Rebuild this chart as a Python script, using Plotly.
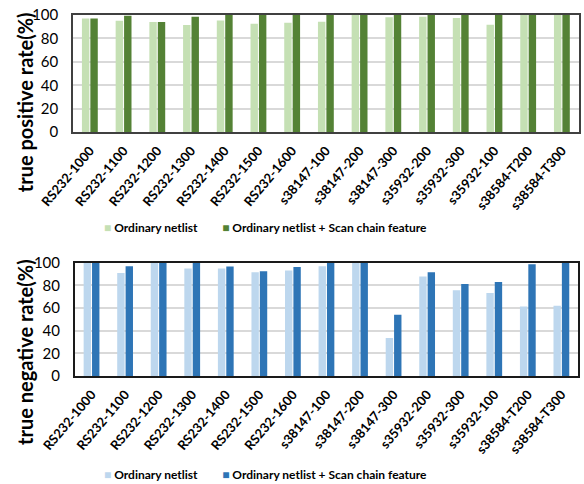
import plotly.graph_objects as go

circuits = ["RS232-1000", "RS232-1100", "RS232-1200", "RS232-1300", "RS232-1400",
            "RS232-1500", "RS232-1600", "s38147-100", "s38147-200", "s38147-300",
            "s35932-200", "s35932-300", "s35932-100", "s38584-T200", "s38584-T300"]

# true positive rate (%)
tpr_ordinary = [97, 95, 94, 91.4, 95.4, 92.6, 93.4, 94.3, 100, 98, 98.6, 97.4, 91.7, 100, 100]
tpr_scan = [97, 99.4, 94, 98.6, 100, 100, 100, 100, 100, 100, 100, 100, 100, 100, 100]

# true negative rate (%)
tnr_ordinary = [100, 91.1, 100, 95, 95, 91.7, 93.2, 97, 100, 33.7, 87.9, 75.7, 73.4, 61.5, 62.1]
tnr_scan = [100, 97, 100, 100, 96.7, 92.6, 96.4, 100, 100, 54.1, 91.7, 81.4, 83.1, 98.8, 100]

y_ticks = [0, 20, 40, 60, 80, 100]
series_names = ["Ordinary netlist", "Ordinary netlist + Scan chain feature"]
green = ["#c5e0b4", "#548235"]
blue = ["#bdd7ee", "#2e75b6"]

FONT = "Lato"
fig = go.Figure()

for vals, col in zip([tpr_ordinary, tpr_scan], green):
    fig.add_trace(go.Bar(x=circuits, y=vals, marker=dict(color=col, line=dict(width=0)),
                         xaxis="x", yaxis="y", showlegend=False))
for vals, col in zip([tnr_ordinary, tnr_scan], blue):
    fig.add_trace(go.Bar(x=circuits, y=vals, marker=dict(color=col, line=dict(width=0)),
                         xaxis="x2", yaxis="y2", showlegend=False))

xcommon = dict(type="category", showline=True, mirror=True,
               linewidth=1.5, ticks="", showgrid=False, automargin=False,
               ticklabelstandoff=4,
               tickprefix="<b>", ticksuffix="</b>",
               tickfont=dict(family=FONT, size=13, color="#000000"))
ycommon = dict(range=[0, 100], tickvals=y_ticks, showline=True, mirror=True,
               linewidth=1.5, showgrid=True, gridcolor="#d9d9d9", gridwidth=1.5,
               ticks="", zeroline=False, automargin=False,
               ticklabelstandoff=10,
               tickprefix="<b>", ticksuffix="</b>",
               tickfont=dict(family=FONT, size=15, color="#000000"))


def legend_text(colors):
    sq = "<span style='color:{}'>■</span> "
    return ("<b>" + sq.format(colors[0]) + series_names[0] + "</b>"
            + "&nbsp;" * 8
            + "<b>" + sq.format(colors[1]) + series_names[1] + "</b>")


fig.update_layout(
    width=584, height=484,
    margin=dict(l=0, r=0, t=0, b=0, autoexpand=False),
    paper_bgcolor="white", plot_bgcolor="white",
    barmode="group", bargap=0.5, bargroupgap=0.12,
    font=dict(family=FONT, color="#000000"),
    showlegend=False,
    xaxis=dict(domain=[0.125, 0.991], anchor="y", linecolor="#404040", **xcommon),
    yaxis=dict(domain=[0.727, 0.969], anchor="x", linecolor="#404040", **ycommon),
    xaxis2=dict(domain=[0.128, 0.990], anchor="y2", linecolor="#1a1a1a", **xcommon),
    yaxis2=dict(domain=[0.223, 0.457], anchor="x2", linecolor="#1a1a1a", **ycommon),
    annotations=[
        dict(text="<b>true positive rate(%)</b>", textangle=-90, showarrow=False,
             xref="paper", yref="paper", x=0.043, y=0.789, xanchor="center", yanchor="middle",
             font=dict(family=FONT, size=20, color="#000000")),
        dict(text="<b>true negative rate(%)</b>", textangle=-90, showarrow=False,
             xref="paper", yref="paper", x=0.043, y=0.273, xanchor="center", yanchor="middle",
             font=dict(family=FONT, size=20, color="#000000")),
        dict(text=legend_text(green), showarrow=False, xref="paper", yref="paper",
             x=0.454, y=0.529, xanchor="center", yanchor="middle",
             font=dict(family=FONT, size=12, color="#000000")),
        dict(text=legend_text(blue), showarrow=False, xref="paper", yref="paper",
             x=0.454, y=0.019, xanchor="center", yanchor="middle",
             font=dict(family=FONT, size=12, color="#000000")),
    ],
)

# slanted category labels
fig.update_xaxes(tickangle=-50)

fig.write_html("out.html")
